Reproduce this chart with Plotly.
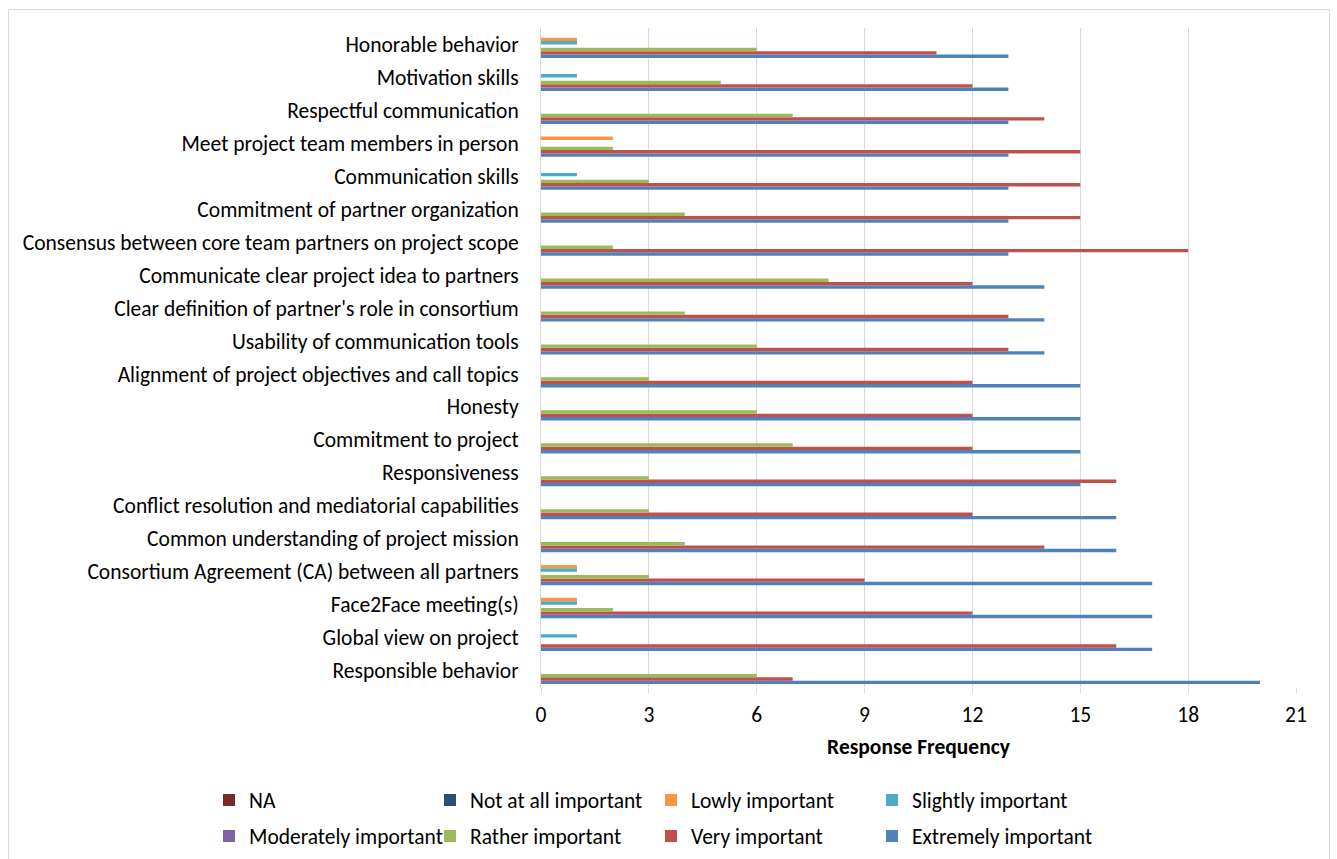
import plotly.graph_objects as go

# Success factors, listed top to bottom as they appear on the axis
categories = [
    "Honorable behavior",
    "Motivation skills",
    "Respectful communication",
    "Meet project team members in person",
    "Communication skills",
    "Commitment of partner organization",
    "Consensus between core team partners on project scope",
    "Communicate clear project idea to partners",
    "Clear definition of partner's role in consortium",
    "Usability of communication tools",
    "Alignment of project objectives and call topics",
    "Honesty",
    "Commitment to project",
    "Responsiveness",
    "Conflict resolution and mediatorial capabilities",
    "Common understanding of project mission",
    "Consortium Agreement (CA) between all partners",
    "Face2Face meeting(s)",
    "Global view on project",
    "Responsible behavior",
]

extremely_important = [13, 13, 13, 13, 13, 13, 13, 14, 14, 14, 15, 15, 15, 15, 16, 16, 17, 17, 17, 20]
very_important      = [11, 12, 14, 15, 15, 15, 18, 12, 13, 13, 12, 12, 12, 16, 12, 14, 9, 12, 16, 7]
rather_important    = [6, 5, 7, 2, 3, 4, 2, 8, 4, 6, 3, 6, 7, 3, 3, 4, 3, 2, 0, 6]
moderately_important = [0] * 20
slightly_important  = [1, 1, 0, 0, 1, 0, 0, 0, 0, 0, 0, 0, 0, 0, 0, 0, 1, 1, 1, 0]
lowly_important     = [1, 0, 0, 2, 0, 0, 0, 0, 0, 0, 0, 0, 0, 0, 0, 0, 1, 1, 0, 0]
not_at_all_important = [0] * 20
na_responses        = [0] * 20

x_ticks = [0, 3, 6, 9, 12, 15, 18, 21]

# (name, values, colour, legend row)
series = [
    ("Extremely important", extremely_important, "#4F81BD", "legend2"),
    ("Very important", very_important, "#C0504D", "legend2"),
    ("Rather important", rather_important, "#9BBB59", "legend2"),
    ("Moderately important", moderately_important, "#8064A2", "legend2"),
    ("Slightly important", slightly_important, "#4BACC6", "legend"),
    ("Lowly important", lowly_important, "#F79646", "legend"),
    ("Not at all important", not_at_all_important, "#2C4D75", "legend"),
    ("NA", na_responses, "#772C2A", "legend"),
]

FONT = "Carlito, Lato, sans-serif"
FS = 21.5

fig = go.Figure()
for name, vals, color, leg in series:
    fig.add_trace(go.Bar(
        y=categories, x=vals, name=name, orientation="h",
        marker=dict(color=color, line=dict(width=0)),
        legend=leg,
    ))

W, H = 1337, 859
L, R, T, B = 541, 41, 28, 172
pw, ph = W - L - R, H - T - B


def px_x(p):
    return (p - L) / pw


def px_y(p):
    return (H - B - p) / ph


legend_common = dict(
    orientation="h", xanchor="left", yanchor="middle",
    traceorder="reversed", entrywidth=176, entrywidthmode="pixels",
    font=dict(family=FONT, size=FS, color="#000000"),
    bgcolor="rgba(0,0,0,0)", itemclick=False,
)

fig.update_layout(
    width=W, height=H,
    margin=dict(l=L, r=R, t=T, b=B, autoexpand=False),
    paper_bgcolor="white", plot_bgcolor="white",
    font=dict(family=FONT, size=FS, color="#000000"),
    barmode="group", bargap=0.18, bargroupgap=0,
    showlegend=True,
    legend=dict(x=px_x(209), y=px_y(800), **legend_common),
    legend2=dict(x=px_x(209), y=px_y(836), **legend_common),
    xaxis=dict(
        range=[0, 21], tickvals=x_ticks, ticktext=[str(t) for t in x_ticks],
        showgrid=True, gridcolor="#D9D9D9", gridwidth=1,
        zeroline=False, showline=False,
        ticks="outside", ticklen=5, tickcolor="#D9D9D9",
        ticklabelstandoff=3, automargin=False,
        tickfont=dict(family=FONT, size=FS, color="#000000"),
        title=dict(text="<b>Response Frequency</b>", standoff=12,
                   font=dict(family=FONT, size=FS, color="#000000")),
    ),
    yaxis=dict(
        categoryorder="array", categoryarray=categories[::-1],
        showgrid=False, zeroline=False, automargin=False,
        showline=True, linecolor="#D9D9D9", linewidth=1,
        ticks="", ticklabelstandoff=17,
        tickfont=dict(family=FONT, size=FS, color="#000000"),
    ),
    shapes=[dict(
        type="rect", xref="paper", yref="paper",
        x0=px_x(8.5), x1=px_x(1329.5), y0=px_y(870), y1=px_y(9.5),
        line=dict(color="#D9D9D9", width=1), fillcolor="rgba(0,0,0,0)",
        layer="below",
    )],
)

fig.write_html("out.html")
